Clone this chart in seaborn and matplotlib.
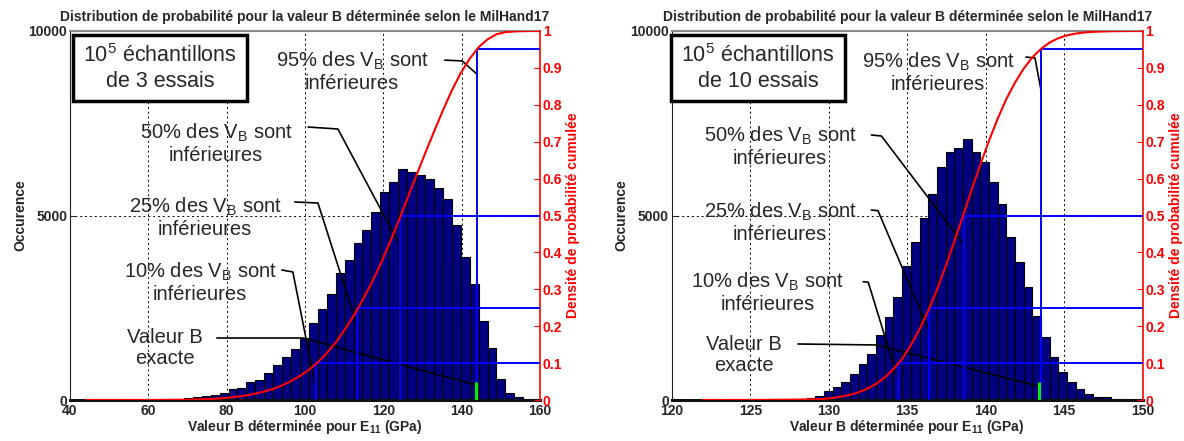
import numpy as np
import pandas as pd
import matplotlib
matplotlib.use("Agg")
import matplotlib.pyplot as plt
import seaborn as sns

sns.set_style("white")
plt.rcParams["font.family"] = ["Liberation Sans", "DejaVu Sans"]
plt.rcParams["mathtext.fontset"] = "custom"
plt.rcParams["mathtext.rm"] = "Liberation Sans"
plt.rcParams["mathtext.it"] = "Liberation Sans:italic"
plt.rcParams["mathtext.bf"] = "Liberation Sans:bold"

TITLE = "Distribution de probabilité pour la valeur B déterminée selon le MilHand17"
XLABEL = r"Valeur B déterminée pour E$_{\mathbf{11}}$ (GPa)"
YLABEL = "Occurence"
Y2LABEL = "Densité de probabilité cumulée"

# --- panneau gauche : 1e5 echantillons de 3 essais (50 classes) ---
left_first_edge = 44.0
left_bin_width = 2.28
left_counts = [1, 0, 1, 1, 2, 2, 4, 6, 10, 15, 25, 45, 70,
               108, 136, 199, 289, 334, 497, 542, 741, 949, 1174,
               1373, 1672, 2078, 2457, 2873, 3433, 3794, 4264, 4607, 5086,
               5628, 5917, 6251, 6188, 6098, 5980, 5754, 5438, 4743, 3866,
               3144, 2130, 1400, 560, 200, 80, 40]
left_quantiles = [102.8, 113.4, 124.2, 143.9]
left_b_exact = 143.7
left_xticks = [40, 60, 80, 100, 120, 140, 160]

# --- panneau droit : 1e5 echantillons de 10 essais (50 classes) ---
right_first_edge = 121.96
right_bin_width = 0.553
right_counts = [1, 1, 2, 3, 4, 6, 8, 11, 15, 22, 32,
                40, 54, 108, 253, 343, 479, 705, 976, 1247, 1761,
                2240, 2782, 3640, 4273, 4932, 5582, 6305, 6712, 6829, 7073,
                6712, 6441, 5917, 5311, 4408, 3731, 3053, 2285, 1698, 1156,
                750, 479, 298, 163, 90, 72, 36, 18, 10]
right_quantiles = [134.4, 136.4, 138.6, 143.5]
right_b_exact = 143.4
right_xticks = [120, 125, 130, 135, 140, 145, 150]

q_levels = [0.1, 0.25, 0.5, 0.95]
b_exact_level = 0.048
y2_ticks = [0, 0.1, 0.2, 0.3, 0.4, 0.5, 0.6, 0.7, 0.8, 0.9, 1]
y2_ticklabels = ["0", "0.1", "0.2", "0.3", "0.4", "0.5", "0.6", "0.7", "0.8", "0.9", "1"]

VB = r"V$_\mathrm{B}$"
left_notes = [
    (f"95% des {VB} sont\ninférieures", (112.0, 8900), [(135.7, 9210), (140.1, 9190), (143.9, 8830)]),
    (f"50% des {VB} sont\ninférieures", (77.3, 6965), [(100.8, 7398), (108.4, 7344), (124.2, 4200)]),
    (f"25% des {VB} sont\ninférieures", (74.5, 4959), [(97.4, 5366), (103.3, 5339), (113.5, 1951)]),
    (f"10% des {VB} sont\ninférieures", (73.2, 3198), [(94.1, 3523), (96.9, 3469), (102.5, 461)]),
    ("Valeur B\nexacte", (64.3, 1409), [(77.5, 1680), (99.5, 1680), (143.7, 407)]),
]
right_notes = [
    (f"95% des {VB} sont\ninférieures", (136.96, 8889), [(142.57, 9295), (143.14, 9268), (143.52, 8401)]),
    (f"50% des {VB} sont\ninférieures", (126.9, 6883), [(132.72, 7182), (133.36, 7154), (138.53, 4256)]),
    (f"25% des {VB} sont\ninférieures", (126.9, 4824), [(132.72, 5149), (133.14, 5130), (136.45, 1816)]),
    (f"10% des {VB} sont\ninférieures", (126.13, 2927), [(132.2, 3206), (132.52, 3190), (134.43, 542)]),
    ("Valeur B\nexacte", (124.6, 1220), [(128.04, 1518), (133.06, 1491), (143.46, 361)]),
]


def draw_panel(fig, rect, first_edge, width, counts, quantiles, b_exact,
               xticks, box_txt, box_xy, notes):
    counts = np.array(counts, dtype=float)
    edges = first_edge + width * np.arange(len(counts) + 1)
    centers = (edges[:-1] + edges[1:]) / 2
    df = pd.DataFrame({"x": centers, "n": counts})
    xmin, xmax = xticks[0], xticks[-1]

    ax = fig.add_axes(rect)
    ax.set_axisbelow(True)
    ax.grid(True, ls=(0, (2, 3)), color="black", lw=0.7)
    sns.histplot(data=df, x="x", weights="n", bins=list(edges), color="#000080",
                 edgecolor="black", linewidth=0.8, alpha=1, ax=ax)
    ax.set_xlim(xmin, xmax)
    ax.set_ylim(0, 10000)
    ax.set_xticks(xticks)
    ax.set_yticks([0, 5000, 10000])
    ax.set_xticklabels([str(t) for t in xticks])
    ax.set_yticklabels(["0", "5000", "10000"])
    ax.tick_params(direction="in", length=4, labelsize=10)
    ax.tick_params(axis="x", pad=3)
    ax.tick_params(axis="y", pad=2)
    for lab in ax.get_xticklabels() + ax.get_yticklabels():
        lab.set_fontweight("bold")
    ax.set_title(TITLE, fontsize=10, fontweight="bold", pad=7)
    ax.set_xlabel(XLABEL, fontsize=10, fontweight="bold", labelpad=0)
    ax.set_ylabel(YLABEL, fontsize=10, fontweight="bold", labelpad=1)
    ax.spines["bottom"].set_linewidth(2.2)
    ax.spines["bottom"].set_color("#111111")
    ax.spines["left"].set_color("#222222")
    ax.spines["top"].set_color("#888888")
    ax.spines["top"].set_linewidth(1.5)
    ax.spines["right"].set_visible(False)

    # courbe cumulée sur l'axe de droite
    ax2 = ax.twinx()
    cdf = np.concatenate([[0], np.cumsum(counts)]) / counts.sum()
    cx = np.append(edges, xmax)
    cy = np.append(cdf, 1.0)
    ax2.set_ylim(0, 1)
    ax2.set_xlim(xmin, xmax)
    for q, lvl in zip(quantiles, q_levels):
        ax2.vlines(q, 0, lvl, color="blue", lw=1.4, zorder=3)
        ax2.hlines(lvl, q, xmax, color="blue", lw=1.4, zorder=3)
    ax2.vlines(b_exact, 0, b_exact_level, color="#00ee00", lw=2.2, zorder=4)
    sns.lineplot(x=cx, y=cy, ax=ax2, color="red", lw=1.5, estimator=None,
                 sort=False, zorder=5)
    ax2.set_yticks(y2_ticks)
    ax2.set_yticklabels(y2_ticklabels)
    ax2.tick_params(axis="y", direction="in", length=4, colors="red",
                    labelsize=10, pad=2)
    for lab in ax2.get_yticklabels():
        lab.set_fontweight("bold")
    ax2.set_ylabel(Y2LABEL, fontsize=10, fontweight="bold", color="red",
                   labelpad=3)
    for s in ["left", "top", "bottom"]:
        ax2.spines[s].set_visible(False)
    ax2.spines["right"].set_color("red")
    ax2.spines["right"].set_linewidth(1.2)

    # annotations
    ax.text(box_xy[0], box_xy[1], box_txt, ha="center", va="center",
            fontsize=15.5, linespacing=1.2, zorder=6,
            bbox=dict(boxstyle="square,pad=0.45", fc="white", ec="black", lw=2.5))
    for txt, (tx, ty), pts in notes:
        ax.text(tx, ty, txt, ha="center", va="center", multialignment="center",
                fontsize=14.5, linespacing=1.15, zorder=6)
        px, py = zip(*pts)
        ax.plot(px, py, color="black", lw=1.2, zorder=6, clip_on=False)
    return ax, ax2


fig = plt.figure(figsize=(11.84, 4.41), dpi=100)

draw_panel(fig, [70 / 1184, 41 / 441, 470 / 1184, 369 / 441],
           left_first_edge, left_bin_width, left_counts, left_quantiles,
           left_b_exact, left_xticks, "10$^5$ échantillons\nde 3 essais",
           (63.0, 8997), left_notes)
draw_panel(fig, [671.7 / 1184, 41 / 441, 471 / 1184, 369 / 441],
           right_first_edge, right_bin_width, right_counts, right_quantiles,
           right_b_exact, right_xticks, "10$^5$ échantillons\nde 10 essais",
           (125.5, 8997), right_notes)

fig.savefig("out.png", dpi=100)
